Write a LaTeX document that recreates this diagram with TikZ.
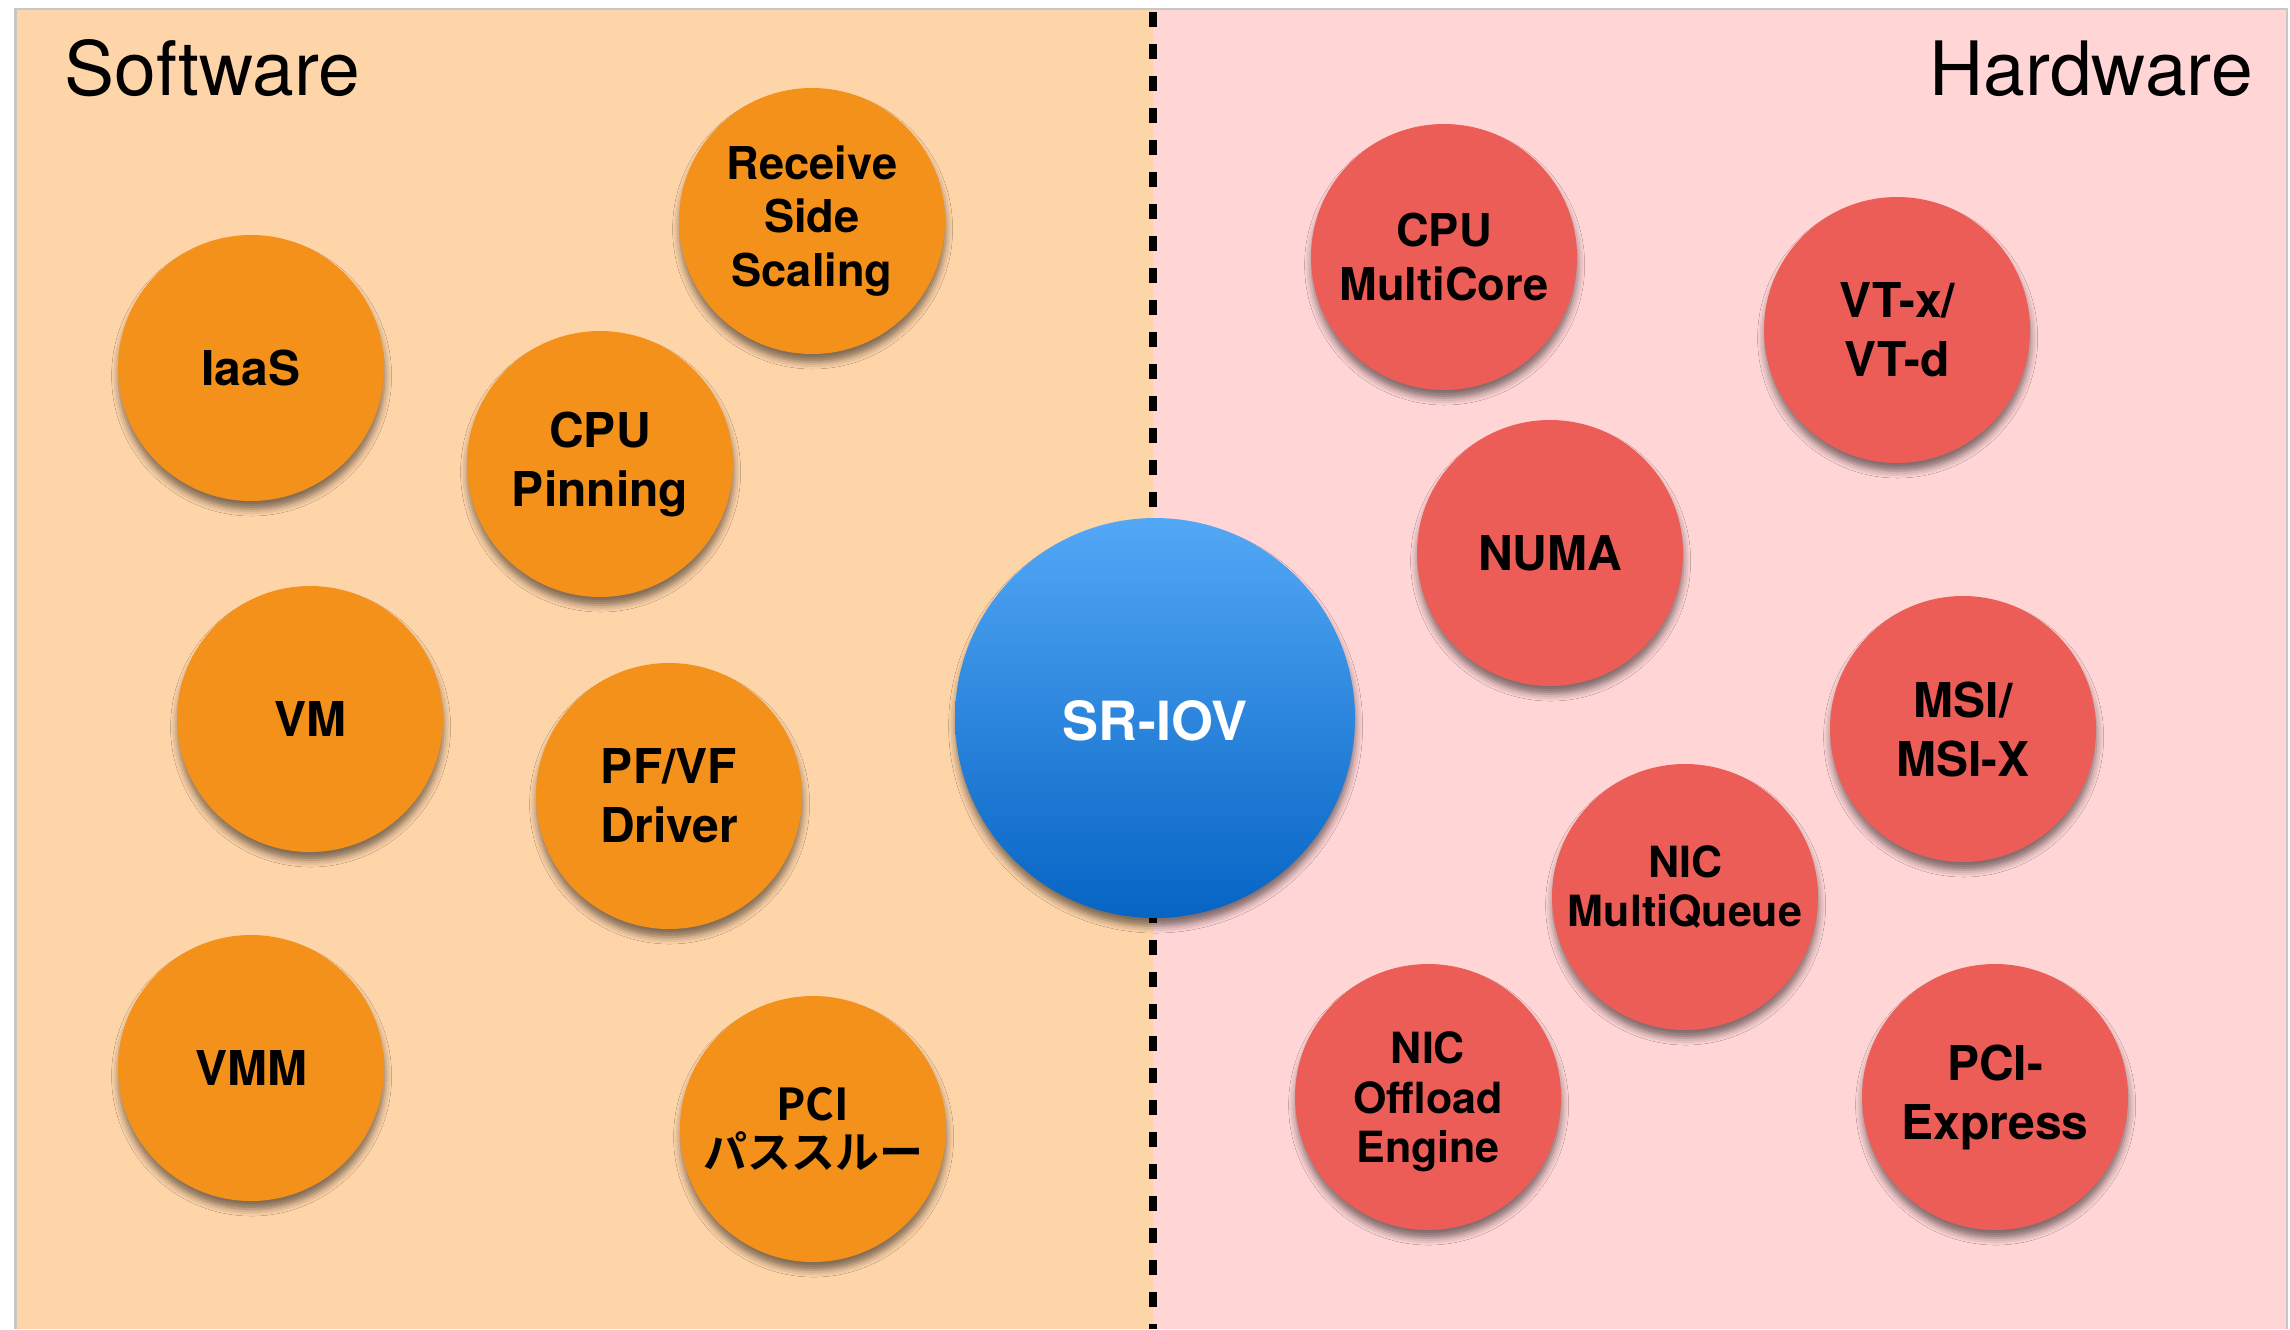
\documentclass[tikz,border=0pt]{standalone}
\usepackage{fontspec}
\setmainfont{TeX Gyre Heros}
\newfontfamily\jpfont{Noto Sans CJK JP Bold}
\usetikzlibrary{shadows.blur}

\definecolor{swbg}{HTML}{FED4A9}
\definecolor{hwbg}{HTML}{FFD5D6}
\definecolor{swball}{HTML}{F3911A}
\definecolor{hwball}{HTML}{EC5D58}
\definecolor{blueTop}{HTML}{53A8F6}
\definecolor{blueBot}{HTML}{0664C4}

% shift a label vertically without changing the space it claims
\newcommand{\nudge}[2]{\raisebox{#1}[\height][\depth]{#2}}

\tikzset{
  ball/.style={circle, minimum size=133pt, inner sep=0pt, align=center,
    font=\bfseries\fontsize{24}{29.5}\selectfont,
    blur shadow={shadow xshift=0.3pt, shadow yshift=-4pt,
      shadow blur radius=3.5pt, shadow opacity=50}},
  swnode/.style={ball, fill=swball},
  hwnode/.style={ball, fill=hwball},
  tight/.style={font=\bfseries\fontsize{21.5}{25.5}\selectfont},
  mid/.style={font=\bfseries\fontsize{22.6}{26.8}\selectfont},
  title/.style={font=\fontsize{37.5}{45}\selectfont, inner sep=0pt}
}

\begin{document}
\begin{tikzpicture}[x={(0.5pt,0)}, y={(0,-0.5pt)}]
  \useasboundingbox (0,0) rectangle (2290,1329);
  \fill[white] (0,0) rectangle (2290,1329);

  % panel edge shadow
  \fill[black!22] (14,8) rectangle (2288,1329);
  % two halves
  \fill[swbg] (17,10) rectangle (1153,1329);
  \fill[hwbg] (1153,10) rectangle (2286,1329);

  % dividing line
  \draw[line width=4pt, dash pattern=on 7.5pt off 8.5pt, dash phase=-1pt]
    (1153,10) coordinate (divtop) -- (1153,1329) coordinate (divbot);

  % headings
  \node[title, anchor=base west] (sw) at (64,95) {Software};
  \node[title, anchor=base east] (hw) at (2253,95) {Hardware};

  % software side
  \node[swnode, mid] (rss)  at (812,221)  {Receive\\Side\\Scaling};
  \node[swnode] (iaas) at (251,368)  {IaaS};
  \node[swnode] (pin)  at (600,464)  {CPU\\Pinning};
  \node[swnode] (vm)   at (310,719)  {VM};
  \node[swnode] (pfvf) at (669,796)  {PF/VF\\Driver};
  \node[swnode] (vmm)  at (251,1068) {VMM};
  \node[swnode, font=\jpfont\fontsize{22}{24}\selectfont] (pci) at (813,1129) {PCI\\パススルー};

  % hardware side
  \node[hwnode, mid] (mcore) at (1444,257)  {CPU\\MultiCore};
  \node[hwnode] (vtx)   at (1897,330)  {VT-x/\\VT-d};
  \node[hwnode] (numa)  at (1550,553)  {NUMA};
  \node[hwnode] (msi)   at (1963,729)  {MSI/\\MSI-X};
  \node[hwnode, tight] (nmq)   at (1685,897)
    {\nudge{5pt}{\shortstack{NIC\\[5pt]MultiQueue}}};
  \node[hwnode, tight] (noe)   at (1428,1097)
    {\nudge{-2.5pt}{\shortstack{NIC\\[5.5pt]Offload\\[5.5pt]Engine}}};
  \node[hwnode] (pcie)  at (1995,1097) {PCI-\\Express};

  % centre
  \node[ball, minimum size=200pt, top color=blueTop, bottom color=blueBot,
    text=white, font=\bfseries\fontsize{27}{32}\selectfont] (sriov) at (1155,718)
    {\nudge{-1.5pt}{SR-IOV}};
\end{tikzpicture}
\end{document}
